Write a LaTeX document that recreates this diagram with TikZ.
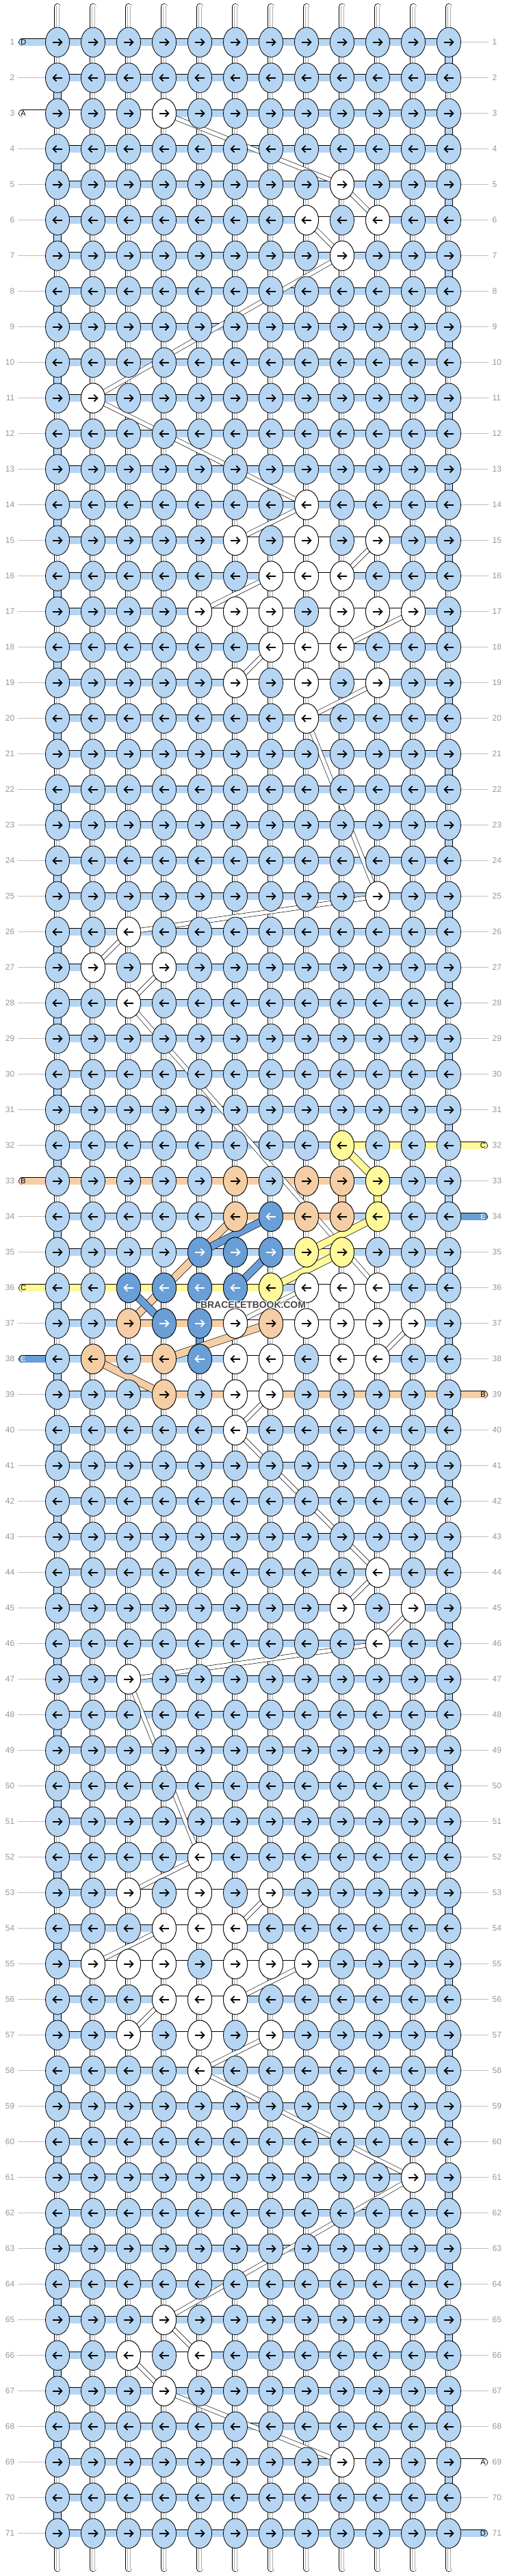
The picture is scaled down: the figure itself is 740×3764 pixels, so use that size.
\documentclass[tikz,border=0pt]{standalone}
\usepackage{fontspec}
\setmainfont{Liberation Sans}
\definecolor{lb}{RGB}{181,213,243}
\definecolor{dk}{RGB}{106,158,214}
\definecolor{pe}{RGB}{246,206,166}
\definecolor{ye}{RGB}{255,249,153}
\definecolor{lblgray}{RGB}{150,150,150}
\definecolor{linegray}{RGB}{192,192,192}
\newcommand\knotdraw[4]{%
  \begin{scope}[shift={(k-#1-#2)}]
    \filldraw[fill=#3, draw=black, line width=0.8pt] (0,0) ellipse [x radius=17.5pt, y radius=21.7pt];
    \ifodd#1\relax
      \draw[#4, line width=1.8pt] (-6.6,0) -- (5.6,0);
      \draw[#4, line width=1.8pt] (1.4,-4.9) -- (6.4,0) -- (1.4,4.9);
    \else
      \draw[#4, line width=1.8pt] (6.6,0) -- (-5.6,0);
      \draw[#4, line width=1.8pt] (-1.4,-4.9) -- (-6.4,0) -- (-1.4,4.9);
    \fi
  \end{scope}}
\newcommand\gapfill[3]{%
  \begin{scope}[shift={(k-#1-#2)}]
    \filldraw[fill=#3, draw=black, line width=0.7pt] (-5.2,19) rectangle (5.2,33);
  \end{scope}}
\newcommand\segH[3]{%
  \pgfmathtruncatemacro\cn{#2+1}%
  \draw[hbar, double=#3] (k-#1-#2) -- (k-#1-\cn);}
\newcommand\tailL[4]{%
  \coordinate (tl-#1) at (32.8,{61.7+52*(#1-1)});
  \draw[hbar, double=#2, line cap=round] (tl-#1) -- (k-#1-1);
  \node[tlab, text=#4, anchor=west] (tln-#1) at (30.2,{61.7+52*(#1-1)}) {#3};}
\newcommand\tailR[4]{%
  \coordinate (tr-#1) at (707.3,{61.7+52*(#1-1)});
  \draw[hbar, double=#2, line cap=round] (k-#1-12) -- (tr-#1);
  \node[tlab, text=#4, anchor=east] (trn-#1) at (710,{61.7+52*(#1-1)}) {#3};}
\begin{document}
\begin{tikzpicture}[x=1pt,y=-1pt,
  hbar/.style={draw=black, double distance=10.1pt, line width=0.65pt},
  wstr/.style={draw=black, double=white, double distance=5.6pt, line width=0.6pt},
  cband/.style={draw=black, double distance=10.1pt, line width=0.65pt},
  lbl/.style={inner sep=0pt, text=lblgray, font=\fontsize{12}{12}\selectfont},
  lblline/.style={draw=linegray, line width=1pt},
  tlab/.style={inner sep=0pt, font=\fontsize{11}{11}\selectfont},
  wm/.style={inner sep=0pt, font=\fontsize{13.9}{14}\selectfont\bfseries}]
\fill[white] (0,0) rectangle (740,3764);
\useasboundingbox (0,0) rectangle (740,3764);
% knot coordinates
\foreach \r in {1,...,71}{\foreach \c in {1,...,12}{%
  \coordinate (k-\r-\c) at ({84+52*(\c-1)},{61.7+52*(\r-1)});}}
% row labels
\foreach \r in {1,...,71}{%
  \draw[lblline] (26,{61.7+52*(\r-1)}) -- (67,{61.7+52*(\r-1)});
  \draw[lblline] (673,{61.7+52*(\r-1)}) -- (714,{61.7+52*(\r-1)});
  \node[lbl, anchor=east] (ll-\r) at (21.5,{61.7+52*(\r-1)}) {\r};
  \node[lbl, anchor=west] (rl-\r) at (719.5,{61.7+52*(\r-1)}) {\r};
}
% vertical strands
\foreach \c in {1,...,12}{%
  \pgfmathsetmacro\sx{84+52*(\c-1)}
  \draw[line width=10.5pt, line cap=round] (\sx,10.2) -- (\sx,3752.8);
  \draw[white, line width=9pt, line cap=round] (\sx,10.2) -- (\sx,3752.8);
  \draw[black!32, line width=0.5pt] (\sx-1.8,8.5) -- (\sx-1.8,3754.5);
  \draw[black!32, line width=0.5pt] (\sx+1.8,8.5) -- (\sx+1.8,3754.5);
}
% horizontal bars
\foreach \r in {1,...,71}{\foreach \c in {1,...,11}{\segH{\r}{\c}{lb}}}
\foreach \r/\c/\col in {3/1/white,3/2/white,3/3/white,6/8/white,6/9/white,
  15/6/white,15/7/white,15/8/white,15/9/white,16/7/white,16/8/white,
  17/5/white,17/6/white,17/7/white,17/8/white,17/9/white,17/10/white,
  18/7/white,18/8/white,19/6/white,19/7/white,19/8/white,19/9/white,
  27/2/white,27/3/white,32/9/ye,32/10/ye,32/11/ye,
  33/1/pe,33/2/pe,33/3/pe,33/4/pe,33/5/pe,33/6/pe,33/7/pe,33/8/pe,
  34/6/pe,34/7/pe,34/8/pe,35/8/ye,
  36/1/ye,36/2/ye,36/3/ye,36/4/ye,36/5/ye,36/6/ye,36/8/white,36/9/white,
  37/3/pe,37/4/pe,37/5/pe,37/6/white,37/7/white,37/8/white,37/9/white,37/10/white,
  38/2/pe,38/3/pe,38/6/white,38/7/white,38/8/white,38/9/white,
  39/4/pe,39/5/pe,39/6/white,39/7/pe,39/8/pe,39/9/pe,39/10/pe,39/11/pe,
  45/9/white,45/10/white,53/3/white,53/4/white,53/5/white,53/6/white,
  54/4/white,54/5/white,55/2/white,55/3/white,55/4/white,55/5/white,55/6/white,55/7/white,
  56/4/white,56/5/white,57/3/white,57/4/white,57/5/white,57/6/white,
  66/3/white,66/4/white,69/9/white,69/10/white,69/11/white}{\segH{\r}{\c}{\col}}
% tails
\tailL{1}{lb}{D}{black}
\tailL{3}{white}{A}{black}
\tailL{33}{pe}{B}{black}
\tailL{36}{ye}{C}{black}
\tailL{38}{dk}{E}{white}
\tailR{32}{ye}{C}{black}
\tailR{34}{dk}{E}{white}
\tailR{39}{pe}{B}{black}
\tailR{69}{white}{A}{black}
\tailR{71}{lb}{D}{black}
% turn-around gaps
\foreach \r in {1,...,70}{%
  \ifodd\r\relax \gapfill{\r}{12}{lb}\else \gapfill{\r}{1}{lb}\fi}
\gapfill{33}{9}{pe}
\gapfill{33}{10}{ye}
\gapfill{37}{5}{dk}
% white string paths
\foreach \a/\b/\cc/\d in {3/4/5/9,5/9/6/10,6/8/7/9,7/9/11/2,11/2/14/8,14/8/15/6,
  15/10/16/9,16/7/17/5,17/11/18/9,18/7/19/6,19/10/20/8,20/8/25/10,25/10/26/3,
  26/3/27/2,27/4/28/3,28/3/36/10,36/8/37/6,37/11/38/10,39/7/40/6,40/6/44/10,
  44/10/45/9,45/11/46/10,46/10/47/3,47/3/52/5,52/5/53/3,53/7/54/6,54/4/55/2,
  55/8/56/6,56/4/57/3,57/7/58/5,58/5/61/11,61/11/65/4,65/4/66/5,66/3/67/4,67/4/69/9}{%
  \draw[wstr] (k-\a-\b) -- (k-\cc-\d);}
% coloured string paths
\draw[cband, double=ye] (k-32-9) -- (k-33-10);
\draw[cband, double=ye] (k-34-10) -- (k-35-8);
\draw[cband, double=ye] (k-35-9) -- (k-36-7);
\draw[cband, double=pe] (k-34-6) -- (k-37-3);
\draw[cband, double=pe] (k-37-7) -- (k-38-4);
\draw[cband, double=pe] (k-38-2) -- (k-39-4);
\draw[cband, double=dk] (k-34-7) -- (k-35-5);
\draw[cband, double=dk] (k-35-7) -- (k-36-6);
\draw[cband, double=dk] (k-36-3) -- (k-37-4);
% knots
\foreach \r in {1,...,71}{\foreach \c in {1,...,12}{\knotdraw{\r}{\c}{lb}{black}}}
\foreach \r/\c in {3/4,5/9,6/8,6/10,7/9,11/2,14/8,15/6,15/8,15/10,16/7,16/8,16/9,
  17/5,17/6,17/7,17/9,17/10,17/11,18/7,18/8,18/9,19/6,19/8,19/10,20/8,25/10,26/3,
  27/2,27/4,28/3,36/8,36/9,36/10,37/6,37/8,37/9,37/10,37/11,38/6,38/7,38/9,38/10,
  39/6,39/7,40/6,44/10,45/9,45/11,46/10,47/3,52/5,53/3,53/5,53/7,54/4,54/5,54/6,
  55/2,55/3,55/4,55/6,55/7,55/8,56/4,56/5,56/6,57/3,57/5,57/7,58/5,61/11,65/4,
  66/3,66/5,67/4,69/9}{\knotdraw{\r}{\c}{white}{black}}
\foreach \r/\c in {33/6,33/8,33/9,34/6,34/8,34/9,37/3,37/7,38/2,38/4,39/4}{\knotdraw{\r}{\c}{pe}{black}}
\foreach \r/\c in {32/9,33/10,34/10,35/8,35/9,36/7}{\knotdraw{\r}{\c}{ye}{black}}
\foreach \r/\c in {34/7,35/5,35/6,35/7,36/3,36/4,36/5,36/6,37/4,37/5,38/5}{\knotdraw{\r}{\c}{dk}{white}}
% watermark
\foreach \dx/\dy in {-1/-1,0/-1,1/-1,-1/0,1/0,-1/1,0/1,1/1}{%
  \node[wm, text=white] at ({370+\dx},{1907+\dy}) {BRACELETBOOK.COM};}
\node[wm, text=black!72] (wm) at (370,1907) {BRACELETBOOK.COM};
\end{tikzpicture}
\end{document}
